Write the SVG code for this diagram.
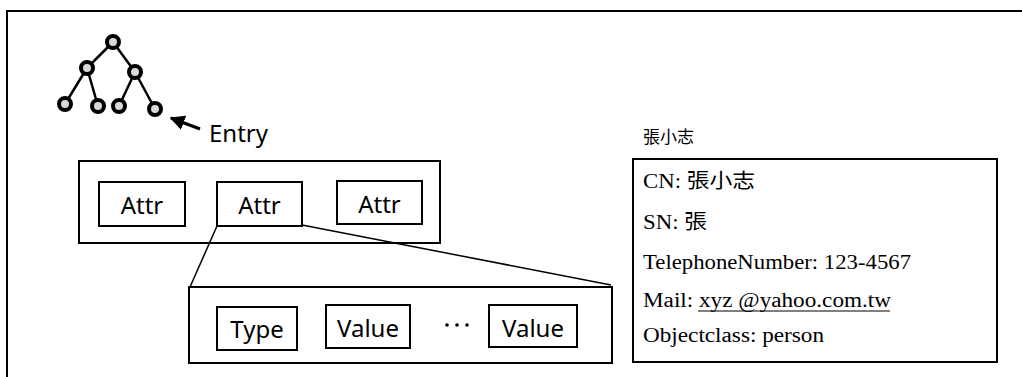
<svg xmlns="http://www.w3.org/2000/svg" width="1022" height="377" viewBox="0 0 1022 377">
<defs>
<style>
.box{fill:#fff;stroke:#000;stroke-width:2}
.lbl{font-family:"Noto Sans","DejaVu Sans",sans-serif;font-size:24px;fill:#000}
.ser{font-family:"Liberation Serif","Noto Sans CJK TC",serif;font-size:20px;fill:#000}
.node{fill:#d8d8d8;stroke:#000;stroke-width:4}
.edge{stroke:#000;stroke-width:2.5;fill:none}
.conn{stroke:#000;stroke-width:1.5;fill:none}
</style>
<marker id="ah" viewBox="0 0 10 10" refX="9" refY="5" markerWidth="5" markerHeight="5" orient="auto" markerUnits="strokeWidth">
<path d="M0,0 L10,5 L0,10 z" fill="#000"/>
</marker>
</defs>
<rect width="1022" height="377" fill="#fff"/>
<g id="frame">
<path d="M1022,11 L7,11 L7,377" fill="none" stroke="#000" stroke-width="2"/>
</g>
<g id="tree">
<path class="edge" d="M113,42 L87,68 M113,42 L135,72 M87,68 L65,104 M87,68 L98,106 M135,72 L119,106 M135,72 L155,109"/>
<circle class="node" cx="113" cy="42" r="6"/>
<circle class="node" cx="87" cy="68" r="6"/>
<circle class="node" cx="135" cy="72" r="6"/>
<circle class="node" cx="65" cy="104" r="6"/>
<circle class="node" cx="98" cy="106" r="6"/>
<circle class="node" cx="119" cy="106" r="6"/>
<circle class="node" cx="155" cy="109" r="6"/>
</g>
<g id="entry-label">
<line x1="200" y1="129" x2="171" y2="118" stroke="#000" stroke-width="3" marker-end="url(#ah)"/>
<text class="lbl" x="209" y="142">Entry</text>
</g>
<g id="entry-box">
<rect class="box" x="79" y="161" width="361" height="82"/>
</g>
<g id="attr1">
<rect class="box" x="99" y="182" width="86" height="44"/>
<text class="lbl" x="142" y="214" text-anchor="middle">Attr</text>
</g>
<g id="attr2">
<rect class="box" x="217" y="182" width="85" height="44"/>
<text class="lbl" x="259.5" y="214" text-anchor="middle">Attr</text>
</g>
<g id="attr3">
<rect class="box" x="337" y="181" width="85" height="43"/>
<text class="lbl" x="379.5" y="213" text-anchor="middle">Attr</text>
</g>
<g id="connectors">
<line class="conn" x1="217" y1="226" x2="190" y2="287"/>
<line class="conn" x1="302" y1="225" x2="611" y2="285"/>
</g>
<g id="attr-detail">
<rect class="box" x="189" y="287" width="423" height="76"/>
</g>
<g id="type">
<rect class="box" x="217" y="307" width="80" height="43"/>
<text class="lbl" x="257" y="338" text-anchor="middle">Type</text>
</g>
<g id="value1">
<rect class="box" x="326" y="305" width="84" height="43"/>
<text class="lbl" x="368" y="337" text-anchor="middle">Value</text>
</g>
<g id="dots">
<circle cx="447" cy="325" r="1.8" fill="#000"/>
<circle cx="457" cy="325" r="1.8" fill="#000"/>
<circle cx="467" cy="325" r="1.8" fill="#000"/>
</g>
<g id="value2">
<rect class="box" x="489" y="305" width="88" height="42"/>
<text class="lbl" x="533" y="337" text-anchor="middle">Value</text>
</g>
<g id="title">
<text x="643" y="143" font-family="'Noto Sans CJK TC',sans-serif" font-size="17" fill="#000">張小志</text>
</g>
<g id="record">
<rect class="box" x="633" y="159" width="364" height="203"/>
<text class="ser" x="643" y="188" textLength="112" lengthAdjust="spacingAndGlyphs">CN: 張小志</text>
<text class="ser" x="643" y="229" textLength="64" lengthAdjust="spacingAndGlyphs">SN: 張</text>
<text class="ser" x="643" y="269" textLength="268" lengthAdjust="spacingAndGlyphs">TelephoneNumber: 123-4567</text>
<text class="ser" x="643" y="307" textLength="248" lengthAdjust="spacingAndGlyphs">Mail: xyz @yahoo.com.tw</text>
<line x1="698" y1="311" x2="890" y2="311" stroke="#000" stroke-width="1"/>
<text class="ser" x="643" y="342" textLength="181" lengthAdjust="spacingAndGlyphs">Objectclass: person</text>
</g>
</svg>
